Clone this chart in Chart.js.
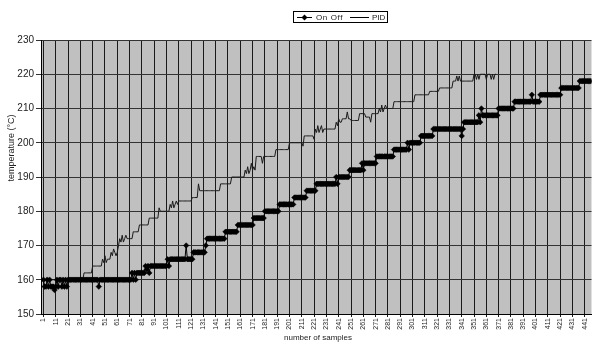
<!DOCTYPE html>
<html>
<head>
<meta charset="utf-8">
<script src="https://cdn.jsdelivr.net/npm/chart.js@4/dist/chart.umd.min.js"></script>
<style>
	body { margin: 0; background: #fff; }
</style>
</head>
<body>
<canvas id="mycanvas" width="596" height="344"></canvas>
<script>
// readings taken off the plot as [temperature, number of samples in a row]
var onOffRuns = [
	[160,1],[158,2],[160,1],[158,1],[160,1],[158,3],[157,1],[158,1],[160,1],[158,1],
	[160,2],[158,1],[160,1],[158,1],[160,1],[158,1],[160,1],
	[160,24],[158,1],[160,26],
	[162,1],[160,1],[162,1],[160,1],[162,7],
	[164,1],[163,1],[164,1],[162,1],[164,14],
	[166,1],[164,1],[166,13],[170,1],[166,5],
	[168,10],[170,1],[172,15],[174,10],[176,13],[178,9],[180,12],[182,12],
	[184,10],[186,8],[188,16],[190,1],[188,1],[190,1],[190,8],
	[192,10],[194,1],[192,1],[194,10],[196,14],[198,11],[200,1],[198,1],[200,9],
	[202,10],[204,23],[202,1],[204,1],[206,12],[208,1],[206,1],[210,1],[208,13],
	[210,13],[212,14],[214,1],[212,6],[214,17],[216,15],[218,10]
];

var pidRuns = [
	[160,33],[162,7],[164,8],
	[166,1],[165,1],[167,1],[165,1],[166,3],
	[168,1],[167,1],[169,1],[168,1],[167,1],[168,1],[170,1],
	[172,1],[171,1],[173,1],[171,1],[172,1],[173,1],[172,5],
	[174,5],[176,8],[178,8],[181,1],[180,8],
	[182,1],[181,1],[183,1],[181,1],[182,1],[183,1],[182,1],[183,2],[183,9],
	[184,5],[188,1],[186,17],[188,9],[190,11],
	[192,1],[191,1],[193,1],[191,1],[192,1],[194,1],[192,1],[193,1],[192,1],
	[196,5],[194,1],[196,10],[198,11],[200,11],[199,1],[202,8],[201,1],
	[204,1],[203,1],[205,1],[203,1],[204,1],[205,1],[203,1],[204,10],
	[206,1],[205,1],[207,1],[206,2],[207,4],[209,1],[207,2],
	[206.5,7],[208.5,5],[207.5,4],[206,1],[208.5,6],
	[210,1],[209,1],[211,1],[209,1],[210,1],[211,1],[210,6],
	[212,17],[214,12],[215,8],[216,11],
	[218,3],[219.5,1],[218,1],[219.5,1],[218,1],[218,10],
	[220,2],[218.5,1],[220,1],[218.5,1],[220,5],[218.5,1],[220,3],[218.5,1],[220,1],[218.5,1],[220,2]
];

var xTicks = [1,11,21,31,41,51,61,71,81,91,101,111,121,131,141,151,161,171,181,191,201,211,
	221,231,241,251,261,271,281,291,301,311,321,331,341,351,361,371,381,391,401,411,421,431,441];
var yTicks = [150,160,170,180,190,200,210,220,230];

var seriesNames = ['On Off', 'PID'];
var xTitle = 'number of samples';
var yTitle = 'temperature (°C)';

var FONT = '"Liberation Sans", Arial, sans-serif';

// sample number -> reading
function toPoints(runs) {
	var pts = [];
	var n = 1;
	for (var i in runs) {
		for (var k = 0; k < runs[i][1]; k++) {
			pts.push({ x: n, y: runs[i][0] });
			n++;
		}
	}
	return pts;
}

// grey plot area like the old excel charts
var plotBg = {
	id: 'plotBg',
	beforeDraw: function(chart) {
		var c = chart.ctx, a = chart.chartArea;
		c.save();
		c.fillStyle = '#fff';
		c.fillRect(0, 0, chart.width, chart.height);
		c.fillStyle = '#c0c0c0';
		c.fillRect(a.left, a.top, a.right - a.left, a.bottom - a.top);
		c.restore();
	}
};

// axis titles + boxed legend
var extras = {
	id: 'extras',
	afterDraw: function(chart) {
		var c = chart.ctx;
		c.save();
		c.fillStyle = '#222';
		c.textBaseline = 'middle';

		c.save();
		c.font = '9px ' + FONT;
		c.textAlign = 'center';
		c.translate(12, 148);
		c.rotate(-Math.PI / 2);
		c.fillText(yTitle, 0, 0);
		c.restore();

		c.font = '8px ' + FONT;
		c.textAlign = 'center';
		c.fillText(xTitle, 318, 338);

		// legend
		c.strokeStyle = '#000';
		c.lineWidth = 1;
		c.strokeRect(293.5, 11.5, 94, 11);
		c.beginPath();
		c.moveTo(297, 17.5); c.lineTo(312, 17.5);
		c.moveTo(350, 17.5); c.lineTo(369, 17.5);
		c.stroke();
		c.fillStyle = '#000';
		c.beginPath();
		c.moveTo(304.5, 14.5); c.lineTo(307.5, 17.5); c.lineTo(304.5, 20.5); c.lineTo(301.5, 17.5);
		c.closePath();
		c.fill();
		c.fillStyle = '#222';
		c.font = '8px ' + FONT;
		c.textAlign = 'left';
		c.letterSpacing = '0.6px';
		c.fillText(seriesNames[0], 316, 17.5);
		c.letterSpacing = '0px';
		c.fillText(seriesNames[1], 372, 17.5);
		c.restore();
	}
};

var ctx = document.getElementById('mycanvas');

var lineGraph = new Chart(ctx, {
	type: 'line',
	data: {
		datasets: [
			{
				label: seriesNames[0],
				data: toPoints(onOffRuns),
				borderColor: '#000',
				borderWidth: 1,
				pointStyle: 'rectRot',
				pointRadius: 2.8,
				pointBorderWidth: 0.5,
				pointBackgroundColor: '#000',
				pointBorderColor: '#000'
			},
			{
				label: seriesNames[1],
				data: toPoints(pidRuns),
				borderColor: '#1a1a1a',
				borderWidth: 1,
				pointRadius: 0
			}
		]
	},
	options: {
		responsive: false,
		animation: false,
		events: [],
		layout: { padding: { top: 40, left: 0, right: 0, bottom: 0 } },
		plugins: {
			legend: { display: false },
			tooltip: { enabled: false }
		},
		scales: {
			x: {
				type: 'linear',
				min: -1,
				max: 446.5,
				afterBuildTicks: function(s) { s.ticks = xTicks.map(function(v) { return { value: v }; }); },
				afterFit: function(s) { s.height = 30; },
				ticks: {
					autoSkip: false,
					minRotation: 90,
					maxRotation: 90,
					padding: 1,
					color: '#222',
					font: { family: FONT, size: 7 },
					callback: function(v) { return String(v); }
				},
				grid: { color: '#1a1a1a', lineWidth: 1, tickLength: 3 },
				border: { color: '#000', width: 1 }
			},
			y: {
				min: 150,
				max: 230,
				afterBuildTicks: function(s) { s.ticks = yTicks.map(function(v) { return { value: v }; }); },
				afterFit: function(s) { s.width = 41; },
				ticks: {
					padding: 2,
					color: '#222',
					font: { family: FONT, size: 10 },
					callback: function(v) { return String(v); }
				},
				grid: { color: '#333', lineWidth: 1, tickLength: 5 },
				border: { color: '#000', width: 1 }
			}
		}
	},
	plugins: [plotBg, extras]
});
</script>
</body>
</html>
